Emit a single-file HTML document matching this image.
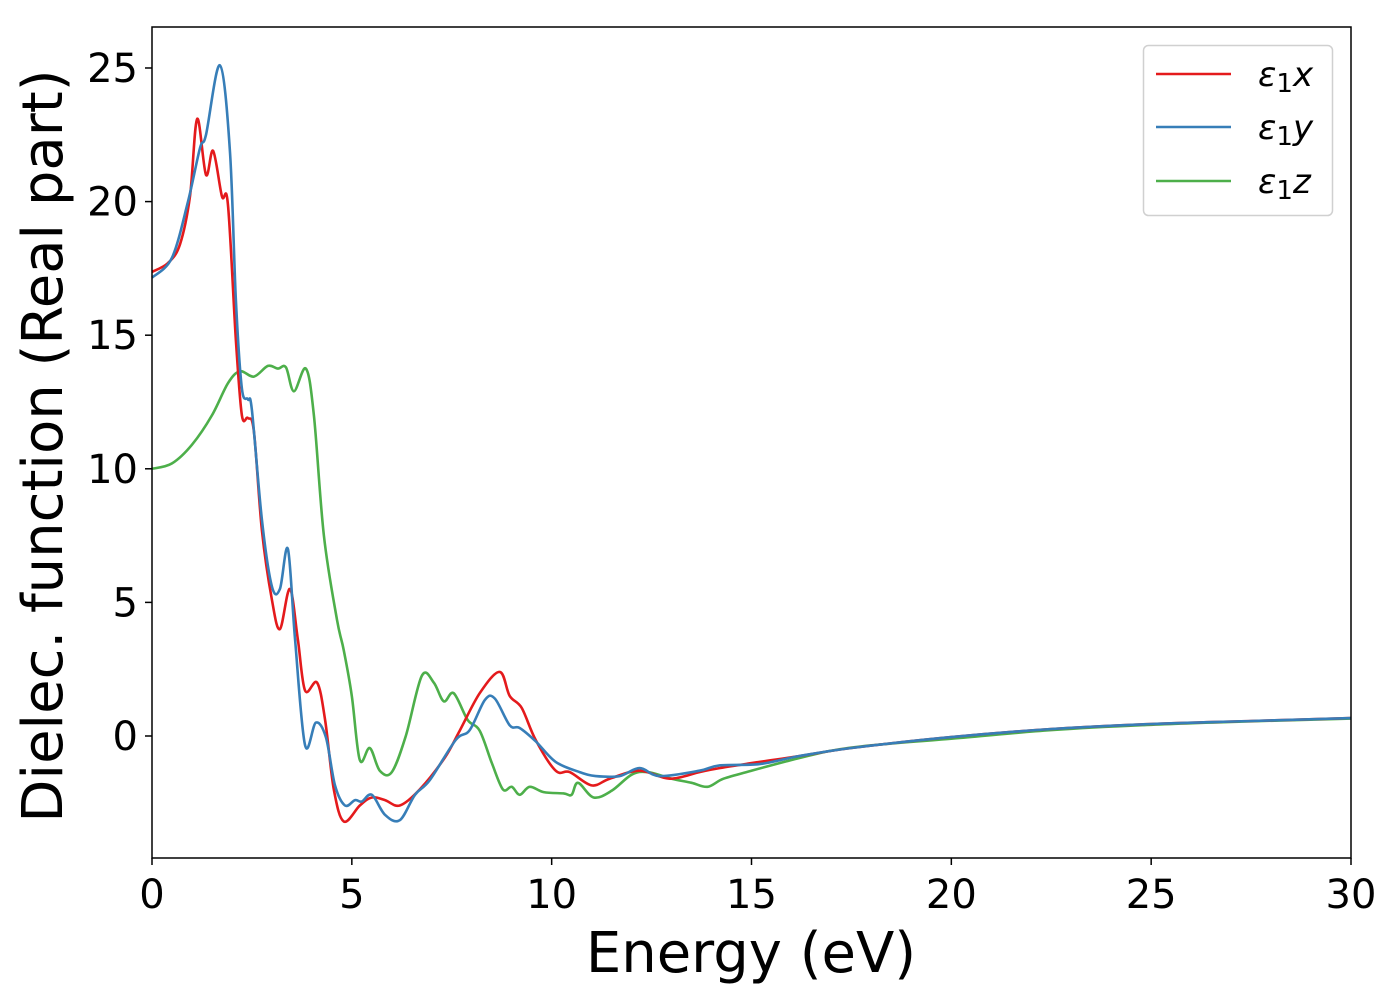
<!DOCTYPE html>
<html><head><meta charset="utf-8"><style>
body{margin:0;background:#fff;}
svg text{font-family:"DejaVu Sans","Liberation Sans",sans-serif;fill:#000;}
</style></head><body>
<svg id="chart" width="1400" height="1000" xmlns="http://www.w3.org/2000/svg">
<rect width="1400" height="1000" fill="#fff"/>
<g id="series"></g>
<rect x="152" y="27" width="1199" height="831" fill="none" stroke="#000" stroke-width="1.5"/>
<g id="xticks"></g>
<g id="yticks"></g>
<text x="751" y="972" font-size="56" text-anchor="middle">Energy (eV)</text>
<text transform="translate(62,446) rotate(-90)" font-size="56" text-anchor="middle">Dielec. function (Real part)</text>
<g>
<rect x="1143.5" y="45.5" width="189" height="170" rx="5" fill="#fff" fill-opacity="0.8" stroke="#d0d0d0" stroke-width="1.5"/>
<line x1="1156" y1="74" x2="1231" y2="74" stroke="#e41a1c" stroke-width="2.5"/>
<line x1="1156" y1="127" x2="1231" y2="127" stroke="#377eb8" stroke-width="2.5"/>
<line x1="1156" y1="181" x2="1231" y2="181" stroke="#4daf4a" stroke-width="2.5"/>
<text x="1258" y="86" font-size="34"><tspan font-style="italic">ε</tspan><tspan font-size="26" dy="6">1</tspan><tspan font-style="italic" dy="-6">x</tspan></text>
<text x="1258" y="139" font-size="34"><tspan font-style="italic">ε</tspan><tspan font-size="26" dy="6">1</tspan><tspan font-style="italic" dy="-6">y</tspan></text>
<text x="1258" y="193" font-size="34"><tspan font-style="italic">ε</tspan><tspan font-size="26" dy="6">1</tspan><tspan font-style="italic" dy="-6">z</tspan></text>
</g>
</svg>
<script>
const xTicks=[0,5,10,15,20,25,30];
const yTicks=[0,5,10,15,20,25];
const xE=[0,0.4,0.7,0.95,1.13,1.35,1.53,1.75,1.9,2.1,2.25,2.4,2.55,2.75,3.0,3.2,3.45,3.65,3.83,4.13,4.33,4.55,4.8,5.2,5.5,5.83,6.2,6.7,7.33,7.7,8.2,8.7,8.95,9.25,9.6,10.1,10.45,11.0,11.45,12.2,12.95,13.7,14.2,15.2,16.2,17.5,20,22.5,25,27.5,30];
const xV=[17.37,17.7,18.4,20.2,23.1,21.0,21.9,20.2,19.9,14.8,12.0,11.9,11.4,7.7,5.1,4.0,5.5,3.6,1.7,2.0,0.6,-2.0,-3.2,-2.6,-2.3,-2.4,-2.6,-2.0,-0.8,0.2,1.6,2.4,1.5,1.05,-0.15,-1.3,-1.35,-1.85,-1.6,-1.3,-1.6,-1.35,-1.2,-0.97,-0.75,-0.45,-0.04,0.26,0.45,0.56,0.67];
const yE=[0,0.5,0.9,1.2,1.35,1.7,1.95,2.1,2.25,2.4,2.5,2.75,3.0,3.2,3.4,3.58,3.83,4.1,4.35,4.58,4.83,5.08,5.25,5.5,5.83,6.2,6.58,6.95,7.6,7.95,8.33,8.58,8.95,9.2,9.6,10.1,10.7,11.1,11.7,12.2,12.7,13.7,14.2,15.2,16.2,17.5,20,22.5,25,27.5,30];
const yV=[17.15,17.9,20.0,22.0,22.5,25.1,21.9,16.3,13.0,12.6,12.2,8.1,5.6,5.5,7.0,3.6,-0.35,0.5,-0.05,-1.85,-2.6,-2.4,-2.45,-2.2,-2.95,-3.15,-2.2,-1.65,-0.15,0.22,1.35,1.4,0.4,0.3,-0.2,-0.97,-1.35,-1.5,-1.5,-1.2,-1.5,-1.3,-1.1,-1.05,-0.75,-0.45,-0.04,0.26,0.45,0.56,0.67];
const zE=[0,0.5,1.0,1.5,1.9,2.2,2.55,2.9,3.15,3.35,3.55,3.85,4.05,4.3,4.63,4.8,5.0,5.2,5.45,5.7,6.0,6.35,6.75,7.05,7.3,7.55,7.9,8.2,8.5,8.78,9.0,9.2,9.45,9.8,10.3,10.5,10.66,11.05,11.5,12.0,12.4,13.0,13.5,13.9,14.3,15.0,16.0,17.0,18.0,20,22.5,25,27.5,30];
const zV=[10.0,10.2,10.9,12.0,13.2,13.65,13.45,13.85,13.75,13.8,12.9,13.75,12.0,7.5,4.35,3.2,1.5,-0.9,-0.45,-1.3,-1.35,0.0,2.25,2.0,1.3,1.6,0.6,0.2,-1.0,-2.0,-1.9,-2.2,-1.9,-2.1,-2.15,-2.2,-1.75,-2.3,-2.05,-1.45,-1.35,-1.6,-1.75,-1.9,-1.6,-1.3,-0.9,-0.55,-0.35,-0.1,0.22,0.42,0.55,0.65];

const X0=152,X1=1351,Y0=858,Y1=27,XMIN=0,XMAX=30,YMIN=-4.566,YMAX=26.534;
function sx(e){return X0+(e-XMIN)/(XMAX-XMIN)*(X1-X0);}
function sy(v){return Y0-(v-YMIN)/(YMAX-YMIN)*(Y0-Y1);}
const NS="http://www.w3.org/2000/svg";
function pathFor(E,V){
  const p=E.map((e,i)=>[sx(e),sy(V[i])]);
  let d="M"+p[0][0].toFixed(1)+","+p[0][1].toFixed(1);
  for(let i=0;i<p.length-1;i++){
    const a=p[Math.max(0,i-1)],b=p[i],c=p[i+1],n=p[Math.min(p.length-1,i+2)];
    const c1=[b[0]+(c[0]-a[0])/6,b[1]+(c[1]-a[1])/6],c2=[c[0]-(n[0]-b[0])/6,c[1]-(n[1]-b[1])/6];
    d+=" C"+c1[0].toFixed(1)+","+c1[1].toFixed(1)+" "+c2[0].toFixed(1)+","+c2[1].toFixed(1)+" "+c[0].toFixed(1)+","+c[1].toFixed(1);
  }
  return d;
}
const g=document.getElementById("series");
[[zE,zV,"#4daf4a","series-z"],[yE,yV,"#377eb8","series-y"],[xE,xV,"#e41a1c","series-x"]].forEach(s=>{
  const el=document.createElementNS(NS,"path");
  el.setAttribute("d",pathFor(s[0],s[1]));
  el.setAttribute("fill","none");el.setAttribute("stroke",s[2]);el.setAttribute("stroke-width","2.6");
  
  
  g.appendChild(el);
});
// reorder so red below blue like reference (blue drawn after red)
g.insertBefore(g.children[2],g.children[1]);
const xt=document.getElementById("xticks");
xTicks.forEach(t=>{
  const l=document.createElementNS(NS,"line");
  l.setAttribute("x1",sx(t));l.setAttribute("x2",sx(t));l.setAttribute("y1",858);l.setAttribute("y2",865);l.setAttribute("stroke","#000");l.setAttribute("stroke-width","1.5");
  
  
  xt.appendChild(l);
  const tx=document.createElementNS(NS,"text");
  tx.setAttribute("x",sx(t));tx.setAttribute("y",908);tx.setAttribute("font-size","40");tx.setAttribute("text-anchor","middle");
  tx.textContent=t;
  
  
  xt.appendChild(tx);
});
const yt=document.getElementById("yticks");
yTicks.forEach(t=>{
  const l=document.createElementNS(NS,"line");
  l.setAttribute("x1",145);l.setAttribute("x2",152);l.setAttribute("y1",sy(t));l.setAttribute("y2",sy(t));l.setAttribute("stroke","#000");l.setAttribute("stroke-width","1.5");
  
  
  yt.appendChild(l);
  const tx=document.createElementNS(NS,"text");
  tx.setAttribute("x",138);tx.setAttribute("y",sy(t)+14);tx.setAttribute("font-size","40");tx.setAttribute("text-anchor","end");
  tx.textContent=t;
  
  
  yt.appendChild(tx);
});
</script>
</body></html>
